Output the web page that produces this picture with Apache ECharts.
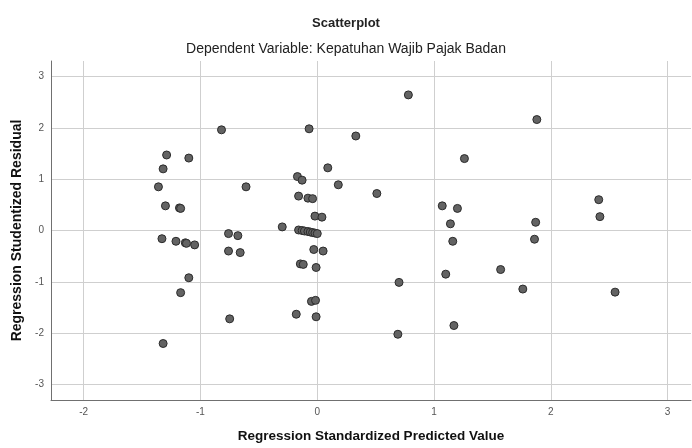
<!DOCTYPE html>
<html>
<head>
<meta charset="utf-8">
<title>Scatterplot</title>
<script src="https://cdn.jsdelivr.net/npm/echarts@6/dist/echarts.min.js"></script>
<style>
html,body{margin:0;padding:0;background:#fff;}
#main{width:692px;height:448px;}
</style>
</head>
<body>
<div id="main"></div>
<script>
// 数据: x = standardized predicted value, y = studentized residual
var predX=[-0.82,-0.07,-1.29,-1.10,-1.32,-1.36,-0.61,-1.30,-1.18,-1.17,
    -1.33,-1.21,-1.13,-1.12,-1.05,-0.76,-0.68,-0.76,-0.66,-0.30,
    -0.17,-0.13,-0.16,-0.08,-0.04,-0.02,0.04,0.09,
    -0.16,-0.13,-0.11,-0.08,-0.06,-0.04,-0.02,0.00,
    -0.03,0.05,-1.10,-1.17,-0.75,-1.32,-0.145,-0.12,-0.01,-0.05,-0.015,-0.18,-0.01,
    0.78,1.88,0.33,1.26,0.18,0.51,1.07,1.20,1.14,1.87,2.41,2.42,1.16,1.86,
    0.70,0.69,1.10,1.57,1.76,1.17,2.55];
var residY=[1.96,1.98,1.47,1.41,1.20,0.85,0.85,0.48,0.44,0.43,
    -0.16,-0.21,-0.24,-0.25,-0.28,-0.06,-0.10,-0.40,-0.43,0.07,
    1.05,0.98,0.67,0.63,0.62,0.28,0.26,1.22,
    0.01,0.00,-0.01,-0.02,-0.03,-0.04,-0.05,-0.06,
    -0.37,-0.40,-0.92,-1.21,-1.72,-2.20,-0.65,-0.66,-0.72,-1.38,-1.36,-1.63,-1.68,
    2.64,2.16,1.84,1.40,0.89,0.72,0.48,0.43,0.13,0.16,0.60,0.27,-0.21,-0.17,
    -1.01,-2.02,-0.85,-0.76,-1.14,-1.85,-1.20];
var xRange=[-2.28,3.2];
var yRange=[-3.3,3.3];

var points=[];
for(var i=0;i<predX.length;i++){
    points.push([predX[i],residY[i]]);
}

var font='"Liberation Sans", Arial, sans-serif';
var chart=echarts.init(document.getElementById('main'),null,{renderer:'canvas'});
chart.setOption({
    backgroundColor:'#fff',
    animation:false,
    title:[{
        text:'Scatterplot',
        left:'center',
        top:12,
        textStyle:{fontFamily:font,fontSize:13,fontWeight:'bold',color:'#222'}
    },{
        text:'Dependent Variable: Kepatuhan Wajib Pajak Badan',
        left:'center',
        top:37,
        textStyle:{fontFamily:font,fontSize:14,fontWeight:'normal',color:'#222'}
    }],
    grid:{left:51,top:61,right:1,bottom:46},
    xAxis:{
        type:'value',
        min:xRange[0],max:xRange[1],
        minInterval:1,maxInterval:1,
        name:'Regression Standardized Predicted Value',
        nameLocation:'middle',
        nameGap:29,
        nameTextStyle:{fontFamily:font,fontSize:13.5,fontWeight:'bold',color:'#111'},
        axisLine:{show:true,onZero:false,lineStyle:{color:'#707070',width:1}},
        axisTick:{show:false},
        axisLabel:{fontFamily:font,fontSize:10,color:'#555',margin:7,showMinLabel:false,showMaxLabel:false},
        splitLine:{show:true,showMinLine:false,showMaxLine:false,lineStyle:{color:'#cfcfcf',width:1}}
    },
    yAxis:{
        type:'value',
        min:yRange[0],max:yRange[1],
        minInterval:1,maxInterval:1,
        name:'Regression Studentized Residual',
        nameLocation:'middle',
        nameGap:24,
        nameTextStyle:{fontFamily:font,fontSize:14,fontWeight:'bold',color:'#111'},
        axisLine:{show:true,onZero:false,lineStyle:{color:'#707070',width:1}},
        axisTick:{show:false},
        axisLabel:{fontFamily:font,fontSize:10,color:'#555',margin:7,showMinLabel:false,showMaxLabel:false},
        splitLine:{show:true,showMinLine:false,showMaxLine:false,lineStyle:{color:'#cfcfcf',width:1}}
    },
    series:[{
        type:'scatter',
        data:points,
        symbol:'circle',
        symbolSize:8,
        itemStyle:{color:'#636363',borderColor:'#2b2b2b',borderWidth:1,opacity:1}
    }]
});
</script>
</body>
</html>
